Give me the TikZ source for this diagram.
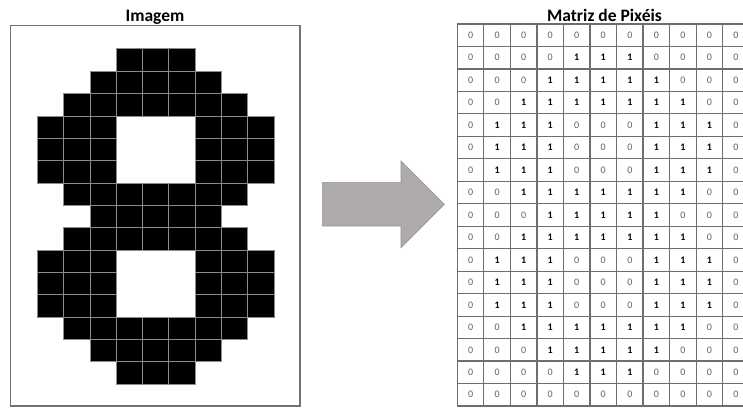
\documentclass[tikz,border=0pt]{standalone}
\usepackage{fontspec}
\setmainfont{Carlito}
\definecolor{arrowgray}{RGB}{175,171,171}
\definecolor{gridgray}{RGB}{110,110,110}
\begin{document}
\begin{tikzpicture}[x=1pt,y=-1pt,
  title/.style={font=\fontsize{17.5}{20}\selectfont\bfseries, anchor=base, inner sep=0},
  d0/.style={font=\fontsize{10}{11}\selectfont, text=black!62, inner sep=0},
  d1/.style={font=\fontsize{10}{11}\selectfont\bfseries, text=black, inner sep=0},
  gridline/.style={draw=gridgray, line width=1.2pt},
  p0/.style={},
  p1/.style={fill=black, draw=black!45, line width=0.8pt},
  frame/.style={draw=black!55, line width=1.5pt},
  bigarrow/.style={fill=arrowgray, draw=arrowgray!85!black, line width=0.6pt}]
\clip (0,0) rectangle (743,408);
\fill[white] (0,0) rectangle (743,408);
\node[title] (t1) at (155,21.5) {Imagem};
\node[title] (t2) at (604.5,21.5) {Matriz de Pixéis};
% pixels and matrix digits
\foreach \row [count=\r from 0] in {
  {0,0,0,0,0,0,0,0,0,0,0},
  {0,0,0,0,1,1,1,0,0,0,0},
  {0,0,0,1,1,1,1,1,0,0,0},
  {0,0,1,1,1,1,1,1,1,0,0},
  {0,1,1,1,0,0,0,1,1,1,0},
  {0,1,1,1,0,0,0,1,1,1,0},
  {0,1,1,1,0,0,0,1,1,1,0},
  {0,0,1,1,1,1,1,1,1,0,0},
  {0,0,0,1,1,1,1,1,0,0,0},
  {0,0,1,1,1,1,1,1,1,0,0},
  {0,1,1,1,0,0,0,1,1,1,0},
  {0,1,1,1,0,0,0,1,1,1,0},
  {0,1,1,1,0,0,0,1,1,1,0},
  {0,0,1,1,1,1,1,1,1,0,0},
  {0,0,0,1,1,1,1,1,0,0,0},
  {0,0,0,0,1,1,1,0,0,0,0},
  {0,0,0,0,0,0,0,0,0,0,0}} {
  \foreach \v [count=\c from 0] in \row {
    \path[p\v] ({11+26.3*\c},{26.5+22.35*\r}) rectangle ++(26.3,22.35);
    \node[d\v] (m-\r-\c) at ({457.3+26.54*(\c+0.5)},{24+22.47*(\r+0.5)}) {\v};
  }
}
% matrix grid
\foreach \i in {0,...,11} \draw[gridline] ({457.3+26.54*\i},24) -- ++(0,382);
\foreach \j in {0,...,17} \draw[gridline] (457.3,{24+22.47*\j}) -- ++(292,0);
% image frame
\draw[frame] (10.5,25.5) rectangle (300,406);
% arrow
\path[bigarrow] (322.3,182.3) -- (401,182.3) -- (401,161) -- (444.3,204.3)
  -- (401,247.7) -- (401,226) -- (322.3,226) -- cycle;
\end{tikzpicture}
\end{document}
